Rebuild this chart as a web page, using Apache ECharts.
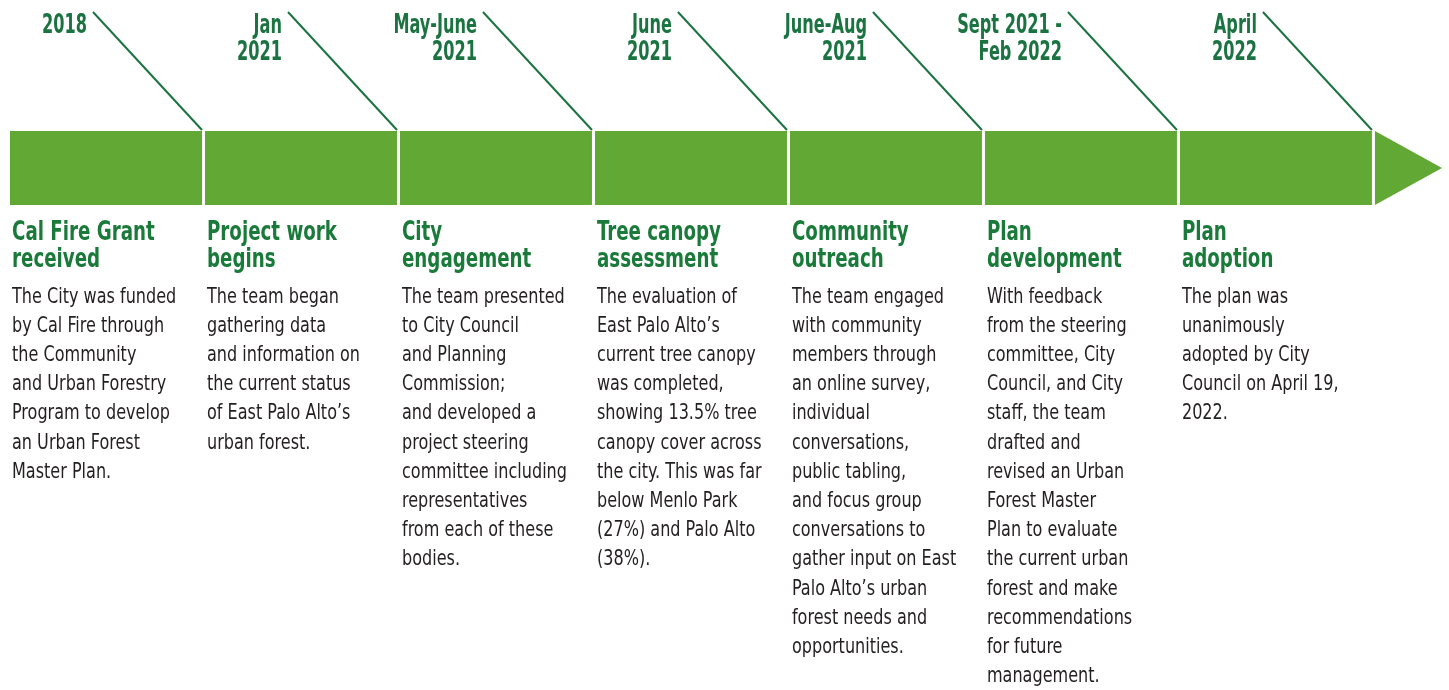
<!DOCTYPE html>
<html>
<head>
<meta charset="utf-8">
<title>Urban Forest Master Plan timeline</title>
<script src="https://cdn.jsdelivr.net/npm/echarts@6/dist/echarts.min.js"></script>
<style>
  html, body { margin: 0; padding: 0; background: #fff; }
  #chart { width: 1449px; height: 690px; }
</style>
</head>
<body>
<div id="chart"></div>
<script>
// timeline stages
const dates = ['2018', 'Jan\n2021', 'May-June\n2021', 'June\n2021', 'June-Aug\n2021', 'Sept 2021 -\nFeb 2022', 'April\n2022']
const titles = [
  'Cal Fire Grant\nreceived',
  'Project work\nbegins',
  'City\nengagement',
  'Tree canopy\nassessment',
  'Community\noutreach',
  'Plan\ndevelopment',
  'Plan\nadoption'
]
const descriptions = [
  'The City was funded\nby Cal Fire through\nthe Community\nand Urban Forestry\nProgram to develop\nan Urban Forest\nMaster Plan.',
  'The team began\ngathering data\nand information on\nthe current status\nof East Palo Alto’s\nurban forest.',
  'The team presented\nto City Council\nand Planning\nCommission;\nand developed a\nproject steering\ncommittee including\nrepresentatives\nfrom each of these\nbodies.',
  'The evaluation of\nEast Palo Alto’s\ncurrent tree canopy\nwas completed,\nshowing 13.5% tree\ncanopy cover across\nthe city. This was far\nbelow Menlo Park\n(27%) and Palo Alto\n(38%).',
  'The team engaged\nwith community\nmembers through\nan online survey,\nindividual\nconversations,\npublic tabling,\nand focus group\nconversations to\ngather input on East\nPalo Alto’s urban\nforest needs and\nopportunities.',
  'With feedback\nfrom the steering\ncommittee, City\nCouncil, and City\nstaff, the team\ndrafted and\nrevised an Urban\nForest Master\nPlan to evaluate\nthe current urban\nforest and make\nrecommendations\nfor future\nmanagement.',
  'The plan was\nunanimously\nadopted by City\nCouncil on April 19,\n2022.'
]
const stageIndex = [0, 1, 2, 3, 4, 5, 6]
const arrowStart = 7
const arrowEnd = 7.344

// no condensed face installed, so squeeze DejaVu Condensed a bit more
const FONT = "'DejaVu Sans Condensed', 'DejaVu Sans', sans-serif"
const BAR_GREEN = '#62a834'
const DARK_GREEN = '#1a7340'
const HEAD_GREEN = '#1a7a3a'

// layout (pixels)
const barTop = 131
const barBottom = 205
const gap = 3

const chart = echarts.init(document.getElementById('chart'))

function renderStage(params, api) {
  const i = api.value(0)
  const x0 = api.coord([i, 0])[0]
  const x1 = api.coord([i + 1, 0])[0] - gap
  const lineTop = x1 - 109
  return {
    type: 'group',
    children: [
      {
        type: 'rect',
        shape: { x: x0, y: barTop, width: x1 - x0, height: barBottom - barTop },
        style: { fill: BAR_GREEN }
      },
      {
        type: 'line',
        shape: { x1: lineTop, y1: 12, x2: x1, y2: barTop - 1 },
        style: { stroke: DARK_GREEN, lineWidth: 2 }
      },
      {
        type: 'text',
        x: lineTop - 6,
        y: 13,
        scaleX: 0.69,
        style: {
          text: dates[i],
          fill: DARK_GREEN,
          font: 'bold 26px ' + FONT,
          align: 'right',
          verticalAlign: 'top',
          lineHeight: 27
        }
      },
      {
        type: 'text',
        x: x0 + 2,
        y: 220,
        scaleX: 0.78,
        style: {
          text: titles[i],
          fill: HEAD_GREEN,
          font: 'bold 26px ' + FONT,
          align: 'left',
          verticalAlign: 'top',
          lineHeight: 27
        }
      },
      {
        type: 'text',
        x: x0 + 2,
        y: 282.5,
        scaleX: 0.85,
        style: {
          text: descriptions[i],
          fill: '#231f20',
          font: '21px ' + FONT,
          align: 'left',
          verticalAlign: 'top',
          lineHeight: 29.2
        }
      }
    ]
  }
}

function renderArrow(params, api) {
  const xa = api.coord([api.value(0), 0])[0]
  const xb = api.coord([arrowEnd, 0])[0]
  return {
    type: 'polygon',
    shape: {
      points: [[xa, barTop], [xb, (barTop + barBottom) / 2], [xa, barBottom]]
    },
    style: { fill: BAR_GREEN }
  }
}

chart.setOption({
  animation: false,
  grid: { left: 10, right: 7, top: 0, bottom: 0 },
  xAxis: { type: 'value', min: 0, max: arrowEnd, show: false },
  yAxis: { type: 'value', min: 0, max: 690, inverse: true, show: false },
  series: [
    {
      type: 'custom',
      clip: false,
      renderItem: renderStage,
      data: stageIndex.map(i => [i])
    },
    {
      type: 'custom',
      clip: false,
      renderItem: renderArrow,
      data: [[arrowStart]]
    }
  ]
})
</script>
</body>
</html>
